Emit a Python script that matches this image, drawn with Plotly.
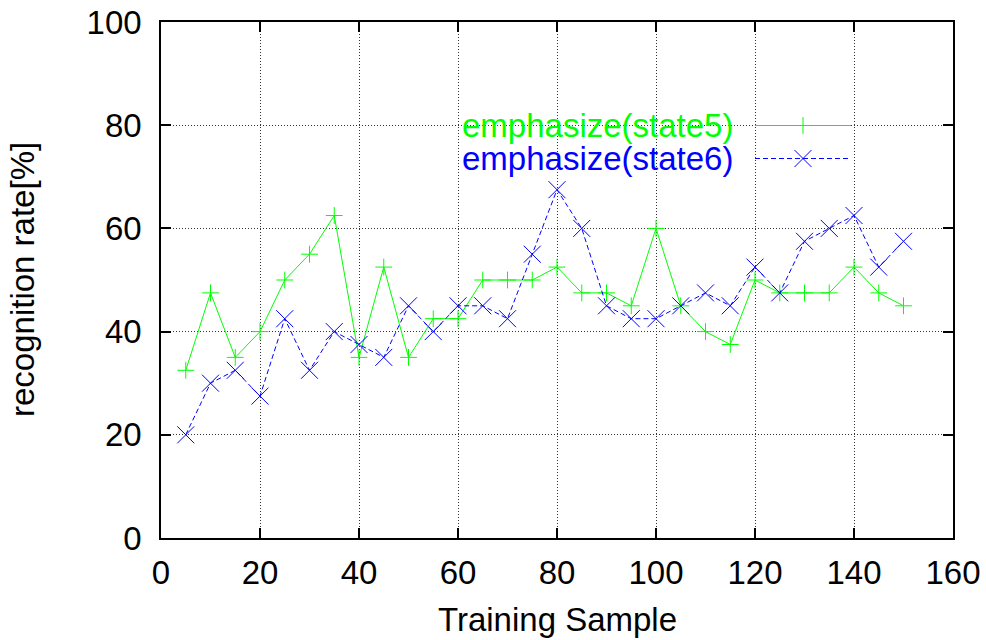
import plotly.graph_objects as go

# Recognition rate per number of training samples
samples = [5, 10, 15, 20, 25, 30, 35, 40, 45, 50, 55, 60, 65, 70, 75,
           80, 85, 90, 95, 100, 105, 110, 115, 120, 125, 130, 135, 140, 145, 150]
state5 = [32.5, 47.5, 35, 40, 50, 55, 62.5, 35, 52.5, 35, 42.5, 42.5, 50, 50, 50,
          52.5, 47.5, 47.5, 45, 60, 45, 40, 37.5, 50, 47.5, 47.5, 47.5, 52.5, 47.5, 45]
state6 = [20, 30, 32.5, 27.5, 42.5, 32.5, 40, 37.5, 35, 45, 40, 45, 45, 42.5, 55,
          67.5, 60, 45, 42.5, 42.5, 45, 47.5, 45, 52.5, 47.5, 57.5, 60, 62.5, 52.5, 57.5]
series_names = ["emphasize(state5)", "emphasize(state6)"]
x_ticks = [0, 20, 40, 60, 80, 100, 120, 140, 160]
y_ticks = [0, 20, 40, 60, 80, 100]

GREEN = "#00ff00"
BLUE = "#0000ff"
FONT = "Liberation Sans, Arial, sans-serif"
FS = 33

fig = go.Figure()

fig.add_trace(go.Scatter(
    x=samples, y=state5, mode="lines+markers", name=series_names[0],
    line=dict(color=GREEN, width=1),
    marker=dict(symbol="cross-thin", size=12, line=dict(color=GREEN, width=1)),
    showlegend=False))
fig.add_trace(go.Scatter(
    x=samples, y=state6, mode="lines+markers", name=series_names[1],
    line=dict(color=BLUE, width=1, dash="5px,3px"),
    marker=dict(symbol="x-thin", size=17, line=dict(color=BLUE, width=1)),
    showlegend=False))

# Key samples drawn on an overlay axis spanning [0, 1] in both directions
key_rows = [(0.7994, GREEN, "solid", "cross-thin", 12),
            (0.7354, BLUE, "5px,3px", "x-thin", 17)]
for (ky, col, dash, sym, sz), name in zip(key_rows, series_names):
    fig.add_trace(go.Scatter(
        x=[0.75, 0.8712], y=[ky, ky], mode="lines", xaxis="x2", yaxis="y2",
        line=dict(color=col, width=1, dash=dash), showlegend=False, hoverinfo="skip"))
    fig.add_trace(go.Scatter(
        x=[0.8106], y=[ky], mode="markers", xaxis="x2", yaxis="y2",
        marker=dict(symbol=sym, size=sz, line=dict(color=col, width=1)),
        showlegend=False, hoverinfo="skip"))
    fig.add_annotation(
        x=0.7247, y=ky, xref="paper", yref="paper", xanchor="right", yanchor="middle",
        text=name, showarrow=False, font=dict(family=FONT, size=FS, color=col))

# White key box hiding the grid behind it
fig.add_shape(type="rect", xref="paper", yref="paper",
              x0=0.3043, x1=0.8952, y0=0.6783, y1=0.8333,
              fillcolor="white", line=dict(width=0), layer="between")

axis_common = dict(
    showline=True, linecolor="black", linewidth=1.5, mirror="ticks",
    ticks="inside", ticklen=10, tickwidth=1.5, tickcolor="black",
    showgrid=True, gridcolor="#333333", gridwidth=1, griddash="1px,2px",
    zeroline=False, automargin=False,
    tickfont=dict(family=FONT, size=FS, color="black"),
)

fig.update_layout(
    width=986, height=640,
    margin=dict(l=161, r=33, t=22, b=102),
    paper_bgcolor="white", plot_bgcolor="white",
    xaxis=dict(range=[0, 160], tickvals=x_ticks, ticklabelstandoff=5, **axis_common),
    yaxis=dict(range=[0, 100], tickvals=y_ticks, ticklabelstandoff=11, **axis_common),
    xaxis2=dict(range=[0, 1], overlaying="x", visible=False, showgrid=False),
    yaxis2=dict(range=[0, 1], overlaying="y", visible=False, showgrid=False),
    showlegend=False,
)

fig.add_annotation(x=0.5, y=-0.157, xref="paper", yref="paper",
                   xanchor="center", yanchor="middle", text="Training Sample",
                   showarrow=False, font=dict(family=FONT, size=FS, color="black"))
fig.add_annotation(x=-0.1755, y=0.5, xref="paper", yref="paper",
                   xanchor="center", yanchor="middle", textangle=-90,
                   text="recognition rate[%]",
                   showarrow=False, font=dict(family=FONT, size=FS, color="black"))

fig.write_html("out.html")
